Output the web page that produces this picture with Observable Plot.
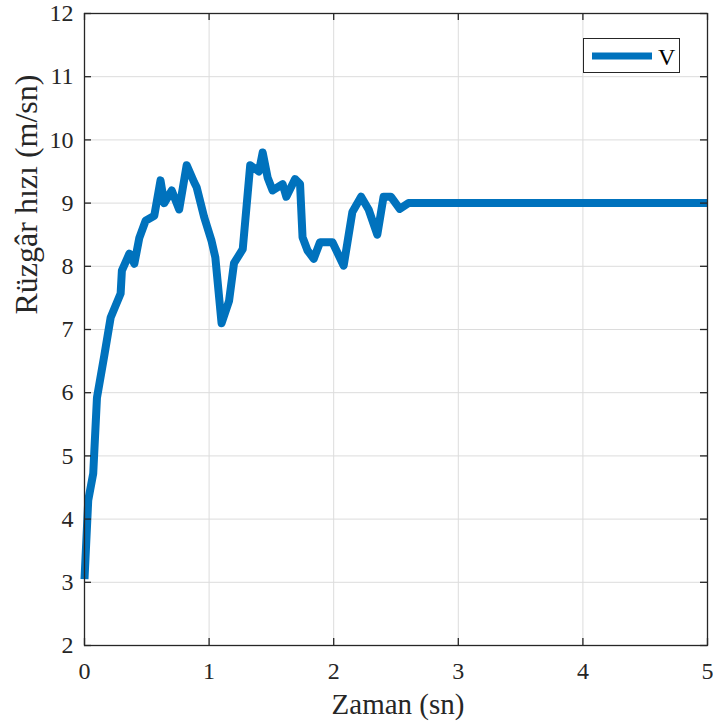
<!DOCTYPE html>
<html>
<head>
<meta charset="utf-8">
<script src="https://cdn.jsdelivr.net/npm/d3@7"></script>
<script src="https://cdn.jsdelivr.net/npm/@observablehq/plot@0.6"></script>
<style>
  html, body { margin: 0; padding: 0; background: #fff; }
  #wrap { position: relative; width: 713px; height: 722px; }
  #wrap svg text { font-family: "Liberation Serif", "Times New Roman", serif !important; }
  #legend { position: absolute; left: 583px; top: 38px; width: 97px; height: 35px; box-sizing: border-box;
    border: 1.3px solid #262626; background: #fff; }
  #legend svg { position: absolute; left: 0; top: 0; }
</style>
</head>
<body>
<div id="wrap"></div>
<script>
const time = [0, 0.03, 0.07, 0.1, 0.16, 0.21, 0.29, 0.30, 0.36, 0.40, 0.44, 0.49, 0.56, 0.61, 0.64, 0.70, 0.76, 0.82, 0.88, 0.90, 0.96, 1.02, 1.05, 1.10, 1.16, 1.20, 1.27, 1.33, 1.40, 1.43, 1.47, 1.51, 1.59, 1.62, 1.69, 1.73, 1.75, 1.79, 1.84, 1.89, 1.99, 2.08, 2.15, 2.22, 2.28, 2.35, 2.40, 2.46, 2.53, 2.60, 3.0, 4.0, 5.0];
const speed = [3.05, 4.3, 4.72, 5.92, 6.6, 7.19, 7.57, 7.93, 8.2, 8.04, 8.45, 8.72, 8.8, 9.36, 9.0, 9.2, 8.9, 9.6, 9.33, 9.25, 8.78, 8.4, 8.14, 7.1, 7.45, 8.05, 8.27, 9.6, 9.5, 9.8, 9.4, 9.2, 9.3, 9.1, 9.38, 9.3, 8.46, 8.25, 8.12, 8.38, 8.38, 8.01, 8.86, 9.1, 8.9, 8.5, 9.1, 9.1, 8.91, 9.0, 9.0, 9.0, 9.0];
const xTicks = [0, 1, 2, 3, 4, 5];
const yTicks = [2, 3, 4, 5, 6, 7, 8, 9, 10, 11, 12];
const seriesName = "V";
const xLabel = "Zaman (sn)";
const yLabel = "Rüzgâr hızı (m/sn)";

const data = time.map((t, i) => ({t, v: speed[i]}));

const W = 713, H = 722;
const mL = 84, mR = 6, mT = 13, mB = 77;
const plotW = W - mL - mR, plotH = H - mT - mB;
const axisColor = "#262626";
const tickLen = 7;
const serif = "'Liberation Serif', 'Times New Roman', serif";

const chart = Plot.plot({
  width: W, height: H,
  marginLeft: mL, marginRight: mR, marginTop: mT, marginBottom: mB,
  style: {fontFamily: serif, background: "#fff", overflow: "visible"},
  x: {domain: [0, 5]},
  y: {domain: [2, 12]},
  marks: [
    Plot.gridX(xTicks, {stroke: "#dcdcdc", strokeOpacity: 1, strokeWidth: 1}),
    Plot.gridY(yTicks, {stroke: "#dcdcdc", strokeOpacity: 1, strokeWidth: 1}),
    Plot.line(data, {x: "t", y: "v", stroke: "#0072BD", strokeWidth: 8, strokeLinejoin: "round", strokeLinecap: "butt"}),
    Plot.frame({stroke: axisColor, strokeWidth: 1.3}),
    Plot.tickX(xTicks, {x: d => d, insetTop: plotH - tickLen, stroke: axisColor, strokeWidth: 1.3}),
    Plot.tickX(xTicks, {x: d => d, insetBottom: plotH - tickLen, stroke: axisColor, strokeWidth: 1.3}),
    Plot.tickY(yTicks, {y: d => d, insetRight: plotW - tickLen, stroke: axisColor, strokeWidth: 1.3}),
    Plot.tickY(yTicks, {y: d => d, insetLeft: plotW - tickLen, stroke: axisColor, strokeWidth: 1.3}),
    Plot.axisX(xTicks, {tickSize: 0, tickPadding: 16, fontSize: 24, color: axisColor, label: null, tickFormat: d => String(d), fontFamily: serif}),
    Plot.axisY(yTicks, {tickSize: 0, tickPadding: 11, fontSize: 24, color: axisColor, label: null, tickFormat: d => String(d), fontFamily: serif}),
    Plot.text([xLabel], {frameAnchor: "bottom", dx: 2, dy: 59, fontSize: 29, fill: axisColor, lineAnchor: "middle", fontFamily: serif}),
    Plot.text([yLabel], {frameAnchor: "left", dx: -58, dy: -15, rotate: -90, fontSize: 32, fill: axisColor, lineAnchor: "middle", fontFamily: serif})
  ]
});

const wrap = document.getElementById("wrap");
wrap.appendChild(chart);

const legend = document.createElement("div");
legend.id = "legend";
legend.innerHTML = `<svg width="97" height="35"><line x1="8" x2="68" y1="17" y2="17" stroke="#0072BD" stroke-width="7"/><text x="74" y="26" font-family="Liberation Serif, serif" font-size="24" fill="#000">${seriesName}</text></svg>`;
wrap.appendChild(legend);
</script>
</body>
</html>
